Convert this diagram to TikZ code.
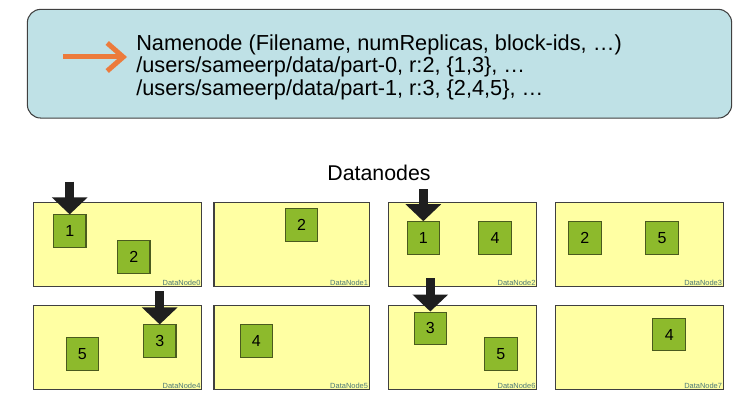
\documentclass[tikz,border=0pt]{standalone}
\usepackage{fontspec}
\setmainfont{Liberation Sans}
\usetikzlibrary{arrows.meta}
\definecolor{nnblue}{HTML}{BFE1E6}
\definecolor{dnyellow}{HTML}{FFFFA3}
\definecolor{blkgreen}{HTML}{8DBA2C}
\definecolor{blkedge}{HTML}{4A5A1E}
\definecolor{arroworange}{HTML}{EC7B3C}
\definecolor{lblteal}{HTML}{4C7878}

\begin{document}
\begin{tikzpicture}[x=0.75pt,y=-0.75pt,
		dnbox/.style={draw=black!75,line width=0.9pt,fill=dnyellow,minimum height=63pt,inner sep=0pt},
		blk/.style={draw=blkedge,line width=0.8pt,fill=blkgreen,minimum size=24.4pt,inner sep=0pt,font=\fontsize{12}{12}\selectfont},
		dnlabel/.style={anchor=south east,inner sep=1.2pt,text=lblteal,font=\fontsize{5.6}{5.6}\selectfont},
		pointer/.style={line width=7pt,color=black!88,-{Triangle[length=12.75pt 0,width=26pt 0]}}]
			\useasboundingbox (0,0) rectangle (745,403);

			\node (namenode) at (379.5,63.7) [draw=black!75, line width=0.8pt, fill=nnblue, rounded corners=10pt, minimum width=528.2pt, minimum height=81.5pt] {};
			\node (nntext) at (136,34) [anchor=north west, inner sep=0pt, align=left, font=\fontsize{16.3}{16.9}\selectfont]
				{Namenode (Filename, numReplicas, block-ids, …)\\/users/sameerp/data/part-0, r:2, \{1,3\}, …\\/users/sameerp/data/part-1, r:3, \{2,4,5\}, …};

			\coordinate (nnarrow) at (63,57);
			\draw[line width=3.75pt, arroworange, shorten >=6.75pt, -{Straight Barb[length=12pt 0,width=21pt 0]}] (nnarrow) -- (nnarrow -| nntext.west);

			\node (dntitle) at (379,180.7) [anchor=base, font=\fontsize{16}{16}\selectfont] {Datanodes};

			% datanode boxes
			\node (dn0) at (117.5,244.7) [dnbox, minimum width=126.3pt] {};
			\node (dn1) at (291.6,244.7) [dnbox, minimum width=116.5pt] {};
			\node (dn2) at (462.5,244.7) [dnbox, minimum width=111.3pt] {};
			\node (dn3) at (639.5,244.7) [dnbox, minimum width=125.7pt] {};

			\node (dn4) at (117.5,347.5) [dnbox, minimum width=126.3pt] {};
			\node (dn5) at (291.6,347.5) [dnbox, minimum width=116.5pt] {};
			\node (dn6) at (462.5,347.5) [dnbox, minimum width=111.3pt] {};
			\node (dn7) at (639.5,347.5) [dnbox, minimum width=125.7pt] {};

			\foreach \n in {0,...,7}
			\node[dnlabel] (lbl\n) at (dn\n.south east) {DataNode\n};

			% blocks
			\node (b0a) at (69.7,231.2) [blk] {1};
			\node (b0b) at (133.7,257.2) [blk] {2};
			\node (b1a) at (301.5,225) [blk] {2};
			\node (b2a) at (423.3,238) [blk] {1};
			\node (b2b) at (495,238) [blk] {4};
			\node (b3a) at (584.8,238) [blk] {2};
			\node (b3b) at (662,238) [blk] {5};

			\node (b4a) at (82.3,353.8) [blk] {5};
			\node (b4b) at (159.7,341.2) [blk] {3};
			\node (b5a) at (256.3,341.2) [blk] {4};
			\node (b6a) at (430.3,328.3) [blk] {3};
			\node (b6b) at (500.8,353.8) [blk] {5};
			\node (b7a) at (669.2,334.5) [blk] {4};

			\coordinate (p0) at (69.7,181.7);
			\coordinate (p2) at (423.3,189.3);
			\coordinate (p4) at (159.7,291);
			\coordinate (p6) at (430.3,278);

			\draw[pointer] (p0) -- (b0a.north);
			\draw[pointer] (p2) -- (b2a.north);
			\draw[pointer] (p4) -- (b4b.north);
			\draw[pointer] (p6) -- (b6a.north);
		\end{tikzpicture}
\end{document}
